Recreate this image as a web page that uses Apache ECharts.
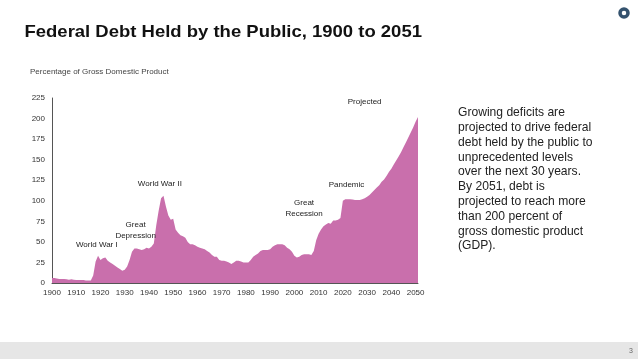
<!DOCTYPE html>
<html><head><meta charset="utf-8">
<style>html,body{margin:0;padding:0;background:#fff}#c{width:638px;height:359px}</style>
<script src="https://cdn.jsdelivr.net/npm/echarts@6/dist/echarts.min.js"></script>
</head><body><div id="c"></div>
<script>
const startYear = 1900;
const historicalDebt = [6,6,5.5,5,5,5,4.5,4,4.5,4,3.5,3.5,3.5,3.5,3,3,3,
 9,26,33,28,30,31,27,25,23,21,19,17,15,16,20,28,38,42,42,41,40,41,43,42,44,48,70,88,103,106,93,82,77,78,
 65,61,58,57,55,50,47,47,46,44,43,42,41,39,37,34,32,32,28,27,27,26,25,23,25,27,27,26,25,25,
 25,28,32,34,36,39,40,40,40,41,44,46,47,47,47,46,43,41,38,33,31,32,34,35,35,35,34,39,52,60,
 65,69,71,73,72,76,76,77,79,100,102];
const projectedDebt = [102,102,101.5,101,101,101,102,103,105,107,110,113,116,119,123,126,130,135,139,144,149,154,159,165,171,177,183,189,196,202];
const annotations = [
 {lines:['World War I'],year:1918.5,value:47},
 {lines:['Great','Depression'],year:1934.5,value:64},
 {lines:['World War II'],year:1944.5,value:121},
 {lines:['Great','Recession'],year:2004,value:91},
 {lines:['Pandemic'],year:2021.5,value:120},
 {lines:['Projected'],year:2029,value:220}
];
const titleText = 'Federal Debt Held by the Public, 1900 to 2051';
const axisCaption = 'Percentage of Gross Domestic Product';
const bodyLines = ['Growing deficits are','projected to drive federal','debt held by the public to','unprecedented levels','over the next 30 years.','By 2051, debt is','projected to reach more','than 200 percent of','gross domestic product','(GDP).'];
const pageNumber = '3';

const seriesData = historicalDebt.concat(projectedDebt).map((v,i)=>[startYear+i,v]);
const chart = echarts.init(document.getElementById('c'),null,{renderer:'canvas'});
const labelFont = '"Liberation Sans", Arial, sans-serif';
chart.setOption({
 animation:false,
 backgroundColor:'#fff',
 grid:{left:52,top:98,width:366,height:185,containLabel:false},
 xAxis:{type:'value',min:1900,max:2051,interval:10,splitLine:{show:false},
  axisLine:{lineStyle:{color:'#555',width:1}},
  axisTick:{inside:true,length:3,lineStyle:{color:'#666'}},
  axisLabel:{color:'#333',fontSize:8,fontFamily:labelFont,margin:6,showMaxLabel:false,formatter:v=>String(v)}},
 yAxis:{type:'value',min:0,max:225,interval:25,splitLine:{show:false},
  axisLine:{show:true,lineStyle:{color:'#555',width:1}},
  axisTick:{show:false},
  axisLabel:{color:'#333',fontSize:8,fontFamily:labelFont,margin:7}},
 series:[{type:'line',data:seriesData,symbol:'none',smooth:false,
  lineStyle:{width:0},areaStyle:{color:'#C96FAC',opacity:1},
  markPoint:{symbol:'circle',symbolSize:0,silent:true,
   data:annotations.map(a=>({coord:[a.year,a.value],
    label:{show:true,position:'inside',formatter:a.lines.join('\n'),color:'#222',fontSize:8,lineHeight:10.5,fontFamily:labelFont,align:'center'}}))}}],
 graphic:[
  {type:'text',x:24.5,y:32,scaleX:1.12,style:{text:titleText,fill:'#111',font:'bold 16.5px '+labelFont,textVerticalAlign:'middle'}},
  {type:'rect',shape:{x:0,y:342,width:638,height:17},style:{fill:'#e6e6e6'},silent:true},
  {type:'text',x:631,y:351,style:{text:pageNumber,fill:'#666',font:'7px '+labelFont,textAlign:'center',textVerticalAlign:'middle'}},
  {type:'circle',shape:{cx:624,cy:13,r:4},style:{fill:'none',stroke:'#34526e',lineWidth:3.5}},
  {type:'text',x:30,y:72,style:{text:axisCaption,fill:'#444',font:'8px '+labelFont,textVerticalAlign:'middle'}},
  {type:'text',x:458,y:105.5,style:{text:bodyLines.join('\n'),fill:'#222',font:'12.1px '+labelFont,lineHeight:14.8}}
 ]
});
</script></body></html>
